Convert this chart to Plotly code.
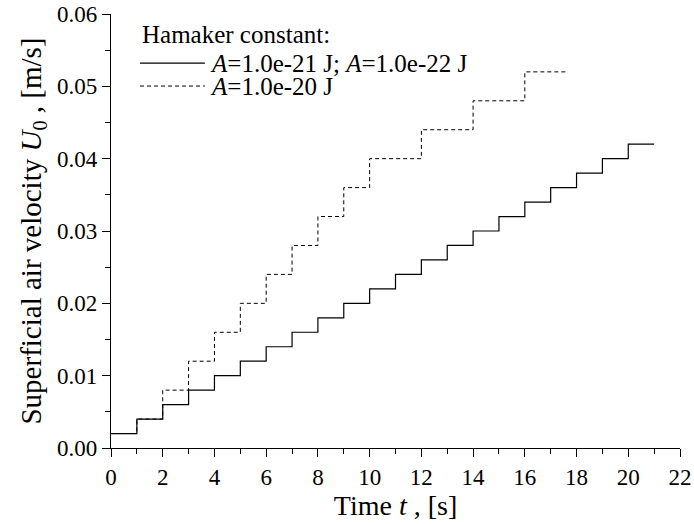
import plotly.graph_objects as go

# Step profiles of superficial air velocity
t_fine = [0, 1, 2, 3, 4, 5, 6, 7, 8, 9, 10, 11, 12, 13, 14, 15, 16, 17, 18, 19, 20, 21]
u_fine = [0.002, 0.004, 0.006, 0.008, 0.010, 0.012, 0.014, 0.016, 0.018, 0.020, 0.022,
          0.024, 0.026, 0.028, 0.030, 0.032, 0.034, 0.036, 0.038, 0.040, 0.042, 0.042]

t_coarse = [0, 1, 2, 3, 4, 5, 6, 7, 8, 9, 10, 12, 14, 16, 17.6]
u_coarse = [0.002, 0.004, 0.008, 0.012, 0.016, 0.020, 0.024, 0.028, 0.032, 0.036,
            0.040, 0.044, 0.048, 0.052, 0.052]

name_fine = "<i>A</i>=1.0e-21 J; <i>A</i>=1.0e-22 J"
name_coarse = "<i>A</i>=1.0e-20 J"
legend_title = "Hamaker constant:"

FONT = "Liberation Serif"
DASH = "4px,3px"
LEG_SIZE = 25

fig = go.Figure()
fig.add_trace(go.Scatter(x=t_coarse, y=u_coarse, mode="lines", line_shape="hv",
                         line=dict(color="black", width=1, dash=DASH),
                         name=name_coarse, showlegend=False))
fig.add_trace(go.Scatter(x=t_fine, y=u_fine, mode="lines", line_shape="hv",
                         line=dict(color="black", width=1.2),
                         name=name_fine, showlegend=False))

# Legend drawn as line samples plus labels in paper space
fig.add_annotation(xref="paper", yref="paper", x=0.051, y=0.952, xanchor="left", yanchor="middle",
                   text=legend_title, showarrow=False,
                   font=dict(family=FONT, size=LEG_SIZE, color="black"))
fig.add_shape(type="line", xref="paper", yref="paper", x0=0.051, x1=0.165, y0=0.887, y1=0.887,
              line=dict(color="black", width=1.2))
fig.add_annotation(xref="paper", yref="paper", x=0.170, y=0.887, xanchor="left", yanchor="middle",
                   text=name_fine, showarrow=False,
                   font=dict(family=FONT, size=LEG_SIZE, color="black"))
fig.add_shape(type="line", xref="paper", yref="paper", x0=0.051, x1=0.165, y0=0.834, y1=0.834,
              line=dict(color="black", width=1, dash=DASH))
fig.add_annotation(xref="paper", yref="paper", x=0.170, y=0.834, xanchor="left", yanchor="middle",
                   text=name_coarse, showarrow=False,
                   font=dict(family=FONT, size=LEG_SIZE, color="black"))

axis_common = dict(showline=True, linecolor="black", linewidth=1.2, ticks="outside",
                   ticklen=8, tickwidth=1.2, tickcolor="black", showgrid=False, zeroline=False,
                   tickfont=dict(family=FONT, size=23, color="black"), mirror=False,
                   automargin=False)

fig.update_xaxes(range=[0, 22], tick0=0, dtick=2,
                 minor=dict(ticks="outside", ticklen=5, tickwidth=1.2, tickcolor="black", dtick=1),
                 title=dict(text="Time <i>t</i> , [s]", font=dict(family=FONT, size=28, color="black"),
                            standoff=4),
                 **axis_common)
fig.update_yaxes(range=[0, 0.06], tick0=0, dtick=0.01, tickformat=".2f",
                 minor=dict(ticks="outside", ticklen=5, tickwidth=1.2, tickcolor="black", dtick=0.005),
                 title=dict(text="Superficial air velocity <i>U</i><sub>0</sub> , [m/s]",
                            font=dict(family=FONT, size=29, color="black"), standoff=6),
                 **axis_common)

fig.update_layout(width=694, height=524, margin=dict(l=111, r=14, t=14, b=76),
                  plot_bgcolor="white", paper_bgcolor="white", showlegend=False)

fig.write_html("out.html")
